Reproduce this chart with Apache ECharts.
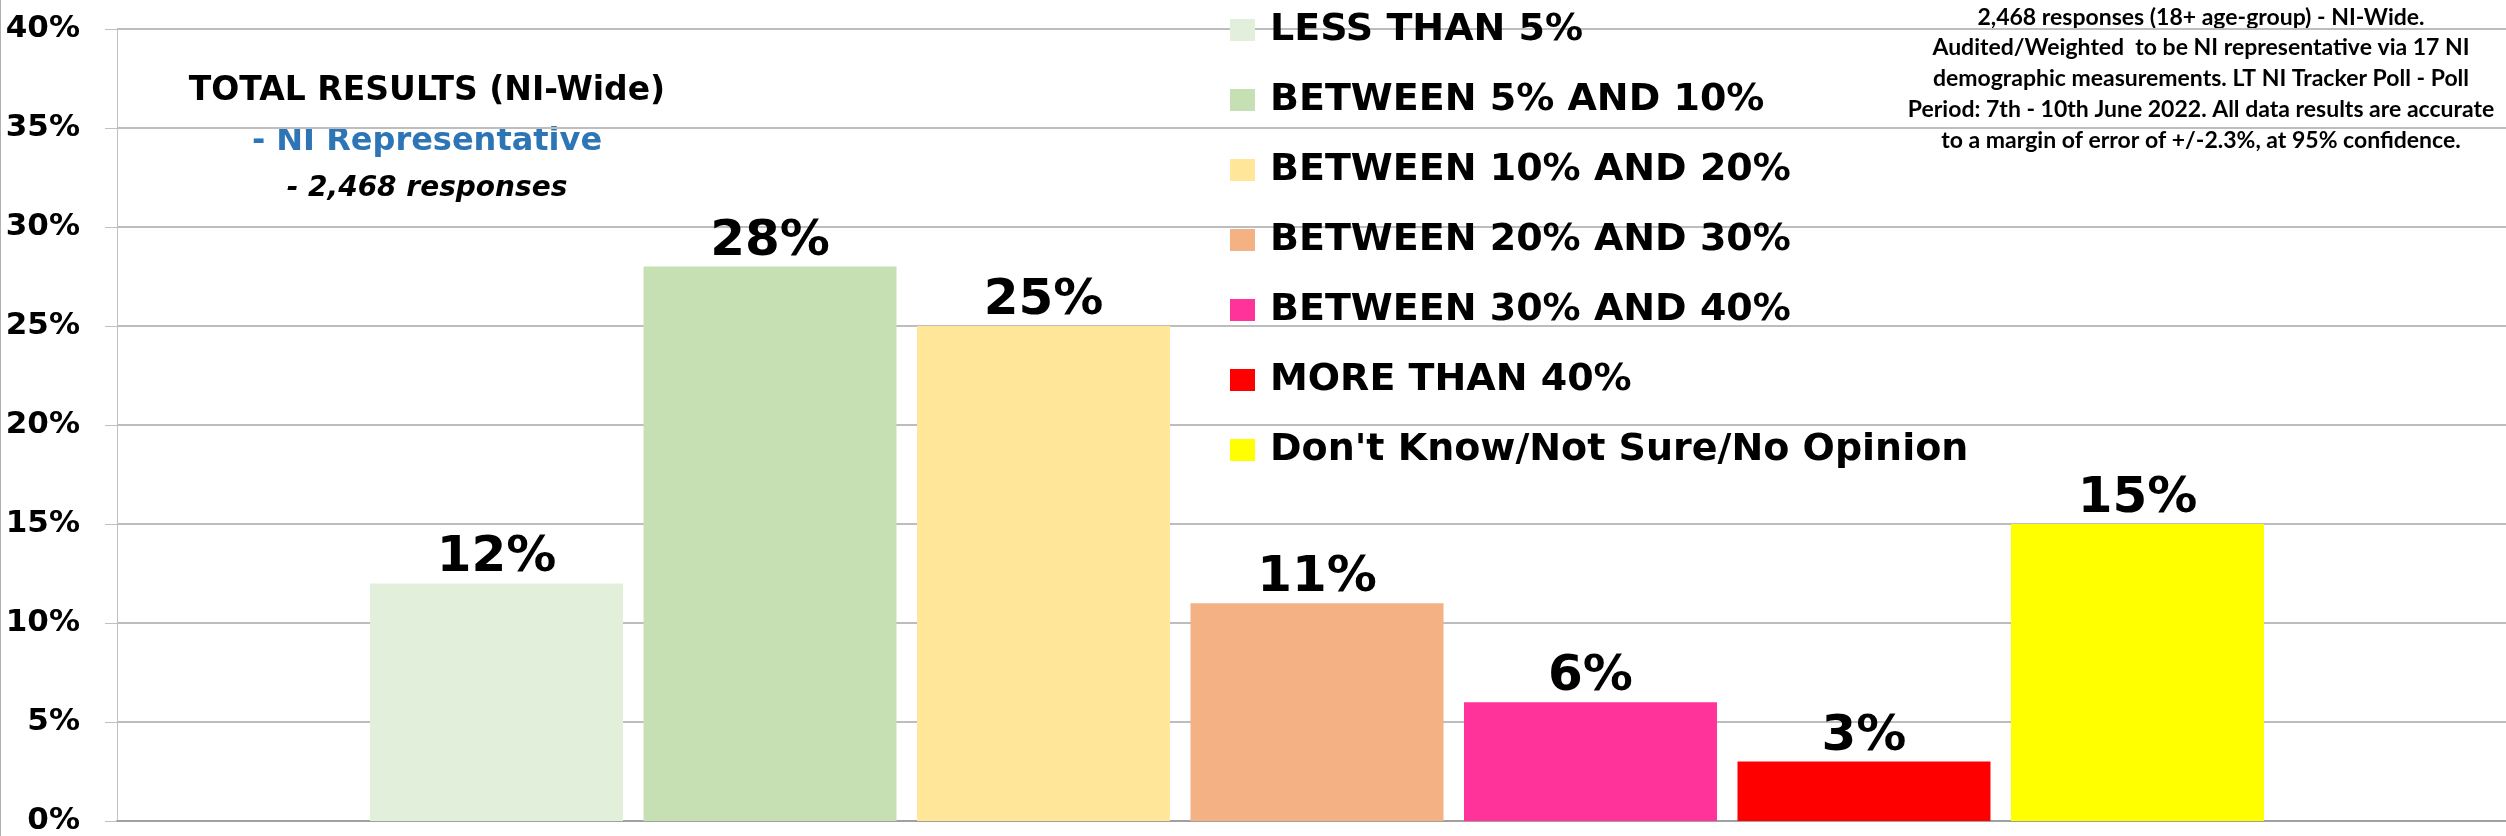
<!DOCTYPE html>
<html>
<head>
<meta charset="utf-8">
<script src="https://cdn.jsdelivr.net/npm/echarts@6/dist/echarts.min.js"></script>
<style>
  html, body { margin: 0; padding: 0; background: #fff; }
  #chart { width: 2506px; height: 836px; }
</style>
</head>
<body>
<div id="chart"></div>
<script>
// one category, one bar per answer band
const categories = ['']
const bandNames = [
  'LESS THAN 5%',
  'BETWEEN 5% AND 10%',
  'BETWEEN 10% AND 20%',
  'BETWEEN 20% AND 30%',
  'BETWEEN 30% AND 40%',
  'MORE THAN 40%',
  "Don't Know/Not Sure/No Opinion",
]
const bandValues = [12, 28, 25, 11, 6, 3, 15]
const bandColors = ['#e2efda', '#c6e0b4', '#ffe699', '#f4b183', '#ff3399', '#ff0000', '#ffff00']

const yMin = 0
const yMax = 40
const yStep = 5

const footnoteLines = [
  '2,468 responses (18+ age-group) - NI-Wide.',
  'Audited/Weighted  to be NI representative via 17 NI',
  'demographic measurements. LT NI Tracker Poll - Poll',
  'Period: 7th - 10th June 2022. All data results are accurate',
  'to a margin of error of +/-2.3%, at 95% confidence.',
]

const boldFont = 'DejaVu Sans'

const chart = echarts.init(document.getElementById('chart'))

const option = {
  animation: false,
  grid: { left: 117, width: 2400, top: 29, bottom: 15, outerBoundsMode: 'none' },
  legend: {
    orient: 'vertical',
    left: 1225,
    top: 5,
    itemWidth: 25,
    itemHeight: 22,
    itemGap: 30,
    icon: 'rect',
    data: bandNames,
    textStyle: {
      fontFamily: boldFont,
      fontWeight: 'bold',
      fontSize: 38,
      lineHeight: 40,
      color: '#000',
      padding: [0, 0, 0, 10],
    },
  },
  xAxis: [
    {
      type: 'category',
      data: categories,
      axisLine: { lineStyle: { color: '#a0a0a0', width: 2 } },
      axisTick: { alignWithLabel: true, length: 15, lineStyle: { color: '#a0a0a0' } },
      axisLabel: { show: false },
    },
    {
      type: 'category',
      data: categories,
      position: 'bottom',
      axisLine: { show: false },
      axisTick: { alignWithLabel: true, inside: true, length: 19, lineStyle: { color: '#a0a0a0' } },
      axisLabel: { show: false },
    },
  ],
  yAxis: {
    type: 'value',
    min: yMin,
    max: yMax,
    interval: yStep,
    axisLine: { show: true, lineStyle: { color: '#c0c0c0' } },
    axisTick: { show: true, length: 12, lineStyle: { color: '#c0c0c0' } },
    splitLine: { lineStyle: { color: '#bdbdbd', width: 2 } },
    axisLabel: {
      formatter: '{value}%',
      margin: 37,
      fontFamily: boldFont,
      fontWeight: 'bold',
      fontSize: 31,
      color: '#000',
    },
  },
  series: bandNames.map((name, i) => ({
    name: name,
    type: 'bar',
    xAxisIndex: 0,
    barWidth: 253,
    barGap: '8.1%',
    itemStyle: { color: bandColors[i] },
    label: {
      show: true,
      position: 'top',
      distance: 0,
      formatter: '{c}%',
      fontFamily: boldFont,
      fontWeight: 'bold',
      fontSize: 50,
      color: '#000',
    },
    data: [bandValues[i]],
  })),
  graphic: [
    {
      type: 'text',
      style: {
        x: 427, y: 91, text: 'TOTAL RESULTS (NI-Wide)',
        align: 'center', verticalAlign: 'middle',
        font: 'bold 33px "DejaVu Sans"', fill: '#000',
      },
    },
    {
      type: 'text',
      style: {
        x: 427, y: 142, text: '- NI Representative',
        align: 'center', verticalAlign: 'middle',
        font: 'bold 32px "DejaVu Sans"', fill: '#2e75b6',
      },
    },
    {
      type: 'text',
      style: {
        x: 427, y: 189, text: '- 2,468 responses',
        align: 'center', verticalAlign: 'middle',
        font: 'italic bold 28px "DejaVu Sans"', fill: '#000',
      },
    },
    {
      type: 'text',
      style: {
        x: 2201, y: 2, text: footnoteLines.join('\n'),
        align: 'center', verticalAlign: 'top',
        lineHeight: 30.7,
        font: 'bold 23px Lato', fill: '#000',
      },
    },
    {
      type: 'line',
      shape: { x1: 0.5, y1: 0, x2: 0.5, y2: 836 },
      style: { stroke: '#b0b0b0', lineWidth: 1 },
    },
  ],
}

chart.setOption(option)

window.addEventListener('resize', () => chart.resize())
</script>
</body>
</html>
